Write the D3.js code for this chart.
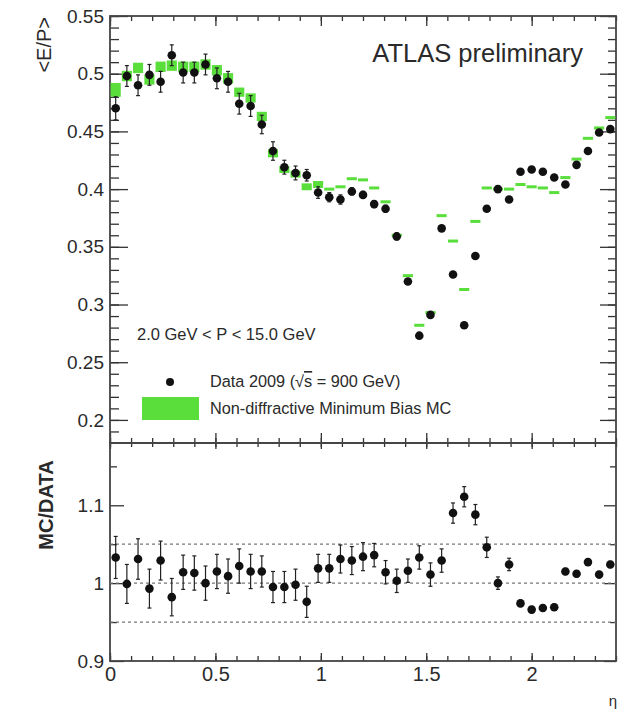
<!DOCTYPE html>
<html>
<head>
<meta charset="utf-8">
<script src="https://cdn.jsdelivr.net/npm/d3@7"></script>
<style>
  body { margin: 0; background: #fff; }
  text { font-family: "Liberation Sans", Arial, Helvetica, sans-serif; fill: #2a2a2a; }
</style>
</head>
<body>
<div id="container"></div>
<script>
// bin centres in eta (45 bins from 0 to 2.4)
let eta = [0.027, 0.080, 0.133, 0.187, 0.240, 0.293, 0.347, 0.400, 0.453, 0.507,
           0.560, 0.613, 0.667, 0.720, 0.773, 0.827, 0.880, 0.933, 0.987, 1.040,
           1.093, 1.147, 1.200, 1.253, 1.307, 1.360, 1.413, 1.467, 1.520, 1.573,
           1.627, 1.680, 1.733, 1.787, 1.840, 1.893, 1.947, 2.000, 2.053, 2.107,
           2.160, 2.213, 2.267, 2.320, 2.373]

let dataEP = [0.470, 0.498, 0.490, 0.499, 0.493, 0.516, 0.501, 0.501, 0.508, 0.496,
              0.493, 0.474, 0.472, 0.456, 0.433, 0.419, 0.414, 0.412, 0.397, 0.393,
              0.391, 0.398, 0.395, 0.387, 0.383, 0.359, 0.320, 0.273, 0.291, 0.366,
              0.326, 0.282, 0.342, 0.383, 0.400, 0.391, 0.415, 0.417, 0.415, 0.410,
              0.404, 0.421, 0.433, 0.449, 0.452]
let dataErr = [0.010, 0.009, 0.009, 0.009, 0.009, 0.009, 0.009, 0.009, 0.009, 0.009,
               0.009, 0.009, 0.009, 0.008, 0.008, 0.006, 0.006, 0.005, 0.005, 0.004,
               0.004, 0.003, 0.003, 0.003, 0.003, 0.003, 0.002, 0.002, 0.002, 0.002,
               0.002, 0.002, 0.002, 0.002, 0.002, 0.002, 0.002, 0.002, 0.002, 0.002,
               0.002, 0.002, 0.002, 0.002, 0.002]

let mcEP = [0.486, 0.498, 0.505, 0.495, 0.506, 0.507, 0.506, 0.506, 0.508, 0.503,
            0.496, 0.484, 0.479, 0.463, 0.431, 0.417, 0.413, 0.402, 0.404, 0.400,
            0.402, 0.409, 0.408, 0.401, 0.389, 0.360, 0.325, 0.282, 0.293, 0.377,
            0.355, 0.313, 0.372, 0.401, 0.400, 0.400, 0.404, 0.402, 0.401, 0.397,
            0.410, 0.426, 0.444, 0.453, 0.462]
let mcErr = [0.006, 0.0045, 0.0045, 0.0045, 0.0045, 0.0045, 0.0045, 0.0045, 0.0045, 0.0045,
             0.0045, 0.004, 0.004, 0.004, 0.0035, 0.003, 0.003, 0.003, 0.003, 0.0013,
             0.0013, 0.0013, 0.0013, 0.0013, 0.0013, 0.0013, 0.0013, 0.0013, 0.0013, 0.0013,
             0.0013, 0.0013, 0.0013, 0.0013, 0.0013, 0.0013, 0.0013, 0.0013, 0.0013, 0.0013,
             0.0013, 0.0013, 0.0013, 0.0013, 0.0013]

let ratio = [1.033, 0.999, 1.031, 0.993, 1.029, 0.982, 1.014, 1.013, 1.000, 1.015,
             1.009, 1.022, 1.015, 1.015, 0.995, 0.995, 0.998, 0.976, 1.019, 1.019,
             1.031, 1.029, 1.034, 1.036, 1.014, 1.003, 1.016, 1.033, 1.011, 1.029,
             1.090, 1.111, 1.088, 1.046, 1.000, 1.024, 0.974, 0.966, 0.968, 0.969,
             1.015, 1.012, 1.027, 1.011, 1.024]
let ratioErr = [0.027, 0.025, 0.026, 0.025, 0.025, 0.024, 0.022, 0.022, 0.022, 0.022,
                0.022, 0.022, 0.022, 0.020, 0.020, 0.020, 0.020, 0.020, 0.018, 0.018,
                0.018, 0.018, 0.018, 0.015, 0.015, 0.015, 0.015, 0.015, 0.015, 0.015,
                0.013, 0.013, 0.013, 0.013, 0.008, 0.008, 0.004, 0.004, 0.004, 0.004,
                0.004, 0.004, 0.004, 0.004, 0.004]

let xTicks = [0, 0.5, 1, 1.5, 2]
let xTickLabels = ['0', '0.5', '1', '1.5', '2']
let topTicks = [0.2, 0.25, 0.3, 0.35, 0.4, 0.45, 0.5, 0.55]
let topTickLabels = ['0.2', '0.25', '0.3', '0.35', '0.4', '0.45', '0.5', '0.55']
let ratioTicks = [0.9, 1, 1.1]
let ratioTickLabels = ['0.9', '1', '1.1']
let ratioLines = [0.95, 1, 1.05]

let binHalf = 2.4 / 90;

let svgWidth = 626, svgHeight = 709;
let padLeft = 110, padRight = 616, padTop = 16, padMid = 443, padBottom = 661;
let green = '#5ade3c';
let ink = '#333';

let svg = d3.select('#container')
            .append('svg')
            .attr('width', svgWidth)
            .attr('height', svgHeight);

let x = d3.scaleLinear().domain([0, 2.4]).range([padLeft, padRight]);
let y = d3.scaleLinear().domain([0.18, 0.55]).range([padMid, padTop]);
let yr = d3.scaleLinear().domain([0.9, 1.18]).range([padBottom, padMid]);

let points = eta.map((e, i) => ({eta: e, d: dataEP[i], de: dataErr[i], m: mcEP[i], me: mcErr[i], r: ratio[i], re: ratioErr[i]}))

// ---- ticks ----
function tickAxis(axis, tx, ty, values, size, labels, fontSize) {
  let g = svg.append('g').attr('transform', 'translate(' + tx + ',' + ty + ')')
  g.call(axis.tickValues(values).tickSize(size).tickSizeOuter(0)
             .tickPadding(6)
             .tickFormat(labels ? (d, i) => labels[i] : ''))
  g.select('.domain').remove()
  g.selectAll('line').attr('stroke', ink).attr('stroke-width', 1.3)
  g.selectAll('text').attr('font-size', fontSize).attr('fill', '#2a2a2a')
   .attr('font-family', '"Liberation Sans", Arial, sans-serif')
  return g
}

let xMinor = d3.range(0, 2.41, 0.1)
let topMinor = d3.range(0.19, 0.551, 0.01)
let ratioMinor = [0.95, 1.05, 1.15]

// top panel
tickAxis(d3.axisLeft(y), padLeft, 0, topTicks, -18, topTickLabels, 19)
tickAxis(d3.axisLeft(y), padLeft, 0, topMinor, -9)
tickAxis(d3.axisRight(y), padRight, 0, topTicks, -16)
tickAxis(d3.axisRight(y), padRight, 0, topMinor, -8)
tickAxis(d3.axisTop(x), 0, padTop, xTicks, -10)
tickAxis(d3.axisTop(x), 0, padTop, xMinor, -5)
tickAxis(d3.axisBottom(x), 0, padMid, xTicks, -10)
tickAxis(d3.axisBottom(x), 0, padMid, xMinor, -5)

// ratio panel
tickAxis(d3.axisTop(x), 0, padMid, xTicks, -6)
tickAxis(d3.axisTop(x), 0, padMid, xMinor, -4)
tickAxis(d3.axisBottom(x), 0, padBottom, xTicks, -8, xTickLabels, 20)
tickAxis(d3.axisBottom(x), 0, padBottom, xMinor, -5)
tickAxis(d3.axisLeft(yr), padLeft, 0, ratioTicks, -14, ratioTickLabels, 19)
tickAxis(d3.axisLeft(yr), padLeft, 0, ratioMinor, -7)
tickAxis(d3.axisRight(yr), padRight, 0, ratioTicks, -12)
tickAxis(d3.axisRight(yr), padRight, 0, ratioMinor, -6)

// frames
svg.append('rect').attr('x', padLeft).attr('y', padTop).attr('width', padRight - padLeft).attr('height', padMid - padTop)
   .attr('fill', 'none').attr('stroke', '#444').attr('stroke-width', 1.8)
svg.append('rect').attr('x', padLeft).attr('y', padMid).attr('width', padRight - padLeft).attr('height', padBottom - padMid)
   .attr('fill', 'none').attr('stroke', '#444').attr('stroke-width', 1.8)

// dotted reference lines
svg.selectAll('.ref')
   .data(ratioLines)
   .enter()
   .append('line')
   .attr('x1', padLeft).attr('x2', padRight)
   .attr('y1', d => yr(d)).attr('y2', d => yr(d))
   .attr('stroke', '#777').attr('stroke-width', 1.3).attr('stroke-dasharray', '3,3')

// MC boxes
svg.selectAll('.mc')
   .data(points)
   .enter()
   .append('rect')
   .attr('x', d => x(d.eta - binHalf * 0.9))
   .attr('width', d => x(d.eta + binHalf * 0.9) - x(d.eta - binHalf * 0.9))
   .attr('y', d => y(d.m + d.me))
   .attr('height', d => Math.max(2.5, y(d.m - d.me) - y(d.m + d.me)))
   .attr('fill', green)

// data error bars + markers
function drawPoints(scale, val, err) {
  let g = svg.append('g')
  let p = g.selectAll('g').data(points).enter().append('g')
  p.append('line')
   .attr('x1', d => x(d.eta)).attr('x2', d => x(d.eta))
   .attr('y1', d => scale(val(d) + err(d))).attr('y2', d => scale(val(d) - err(d)))
   .attr('stroke', '#222').attr('stroke-width', 1.2)
  ;[1, -1].forEach(s => {
    p.append('line')
     .attr('x1', d => x(d.eta) - 2).attr('x2', d => x(d.eta) + 2)
     .attr('y1', d => scale(val(d) + s * err(d))).attr('y2', d => scale(val(d) + s * err(d)))
     .attr('stroke', '#222').attr('stroke-width', 1.2)
  })
  p.append('circle')
   .attr('cx', d => x(d.eta)).attr('cy', d => scale(val(d)))
   .attr('r', 4.3).attr('fill', '#111')
}
drawPoints(y, d => d.d, d => d.de)
drawPoints(yr, d => d.r, d => d.re)

// texts
svg.append('text').attr('x', 583).attr('y', 62).attr('text-anchor', 'end')
   .attr('font-size', 25.5).attr('fill', '#222').text('ATLAS preliminary')

svg.append('text').attr('x', 137).attr('y', 340).attr('font-size', 16.5)
   .text('2.0 GeV < P < 15.0 GeV')

svg.append('circle').attr('cx', 170).attr('cy', 382).attr('r', 4).attr('fill', '#111')
let t2 = svg.append('text').attr('x', 210).attr('y', 387).attr('font-size', 16.3)
t2.append('tspan').text('Data 2009 (√')
t2.append('tspan').attr('text-decoration', 'overline').style('text-decoration', 'overline').text('s')
t2.append('tspan').text(' = 900 GeV)')

svg.append('rect').attr('x', 142).attr('y', 397).attr('width', 57).attr('height', 23).attr('fill', green)
svg.append('text').attr('x', 210).attr('y', 414).attr('font-size', 16.3)
   .text('Non-diffractive Minimum Bias MC')

// axis titles
svg.append('text').attr('transform', 'translate(51,17) rotate(-90)')
   .attr('text-anchor', 'end').attr('font-size', 20).text('<E/P>')
svg.append('text').attr('transform', 'translate(53,505) rotate(-90)')
   .attr('text-anchor', 'middle').attr('font-size', 20).attr('font-weight', 'bold').attr('fill', '#333')
   .text('MC/DATA')
svg.append('text').attr('x', 617).attr('y', 706).attr('text-anchor', 'end')
   .attr('font-size', 15).text('η')
</script>
</body>
</html>
